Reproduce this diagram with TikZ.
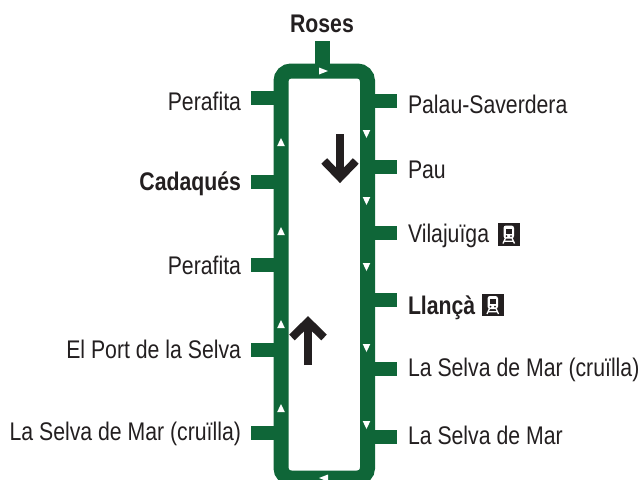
\documentclass[tikz,border=0pt]{standalone}
\usepackage{fontspec}
\setmainfont[FakeStretch=0.833]{Liberation Sans}
\definecolor{linegreen}{HTML}{0F6638}
\definecolor{inkblack}{HTML}{231F20}
\newcommand{\lblsize}{\fontsize{25.5pt}{27pt}\selectfont}
\tikzset{
  x=1pt,y=-1pt,
  every node/.style={inner sep=0pt,outer sep=0pt,text=inkblack,font=\lblsize},
  loopline/.style={draw=linegreen,line width=15pt,rounded corners=10pt},
  stub/.style={draw=linegreen,line width=14.5pt},
  llabel/.style={anchor=base east},
  rlabel/.style={anchor=base west},
  dirtri/.style={fill=white,draw=none},
  bigarrow/.style={draw=inkblack,line width=8pt,miter limit=10},
  pics/trainicon/.style={code={
    \fill[inkblack] (0,0) rectangle (22.5,22.5);
    \fill[white,rounded corners=2.5pt] (6,2.5) rectangle (16.5,15.5);
    \fill[inkblack] (8,5.5) rectangle (14.5,10.5);
    \fill[inkblack] (9,13) circle (1);
    \fill[inkblack] (13.5,13) circle (1);
    \draw[white,line width=1.3pt] (8,15) -- (5.5,20.5) (14.5,15) -- (17,20.5) (6.5,18.2) -- (16,18.2);
  }}
}
\newcommand{\dirup}[2]{\fill[dirtri] (#1,#2-5) -- (#1+3.8,#2+3) -- (#1-3.8,#2+3) -- cycle;}
\newcommand{\dirdown}[2]{\fill[dirtri] (#1,#2+5) -- (#1+3.8,#2-3) -- (#1-3.8,#2-3) -- cycle;}
\begin{document}
\begin{tikzpicture}
\useasboundingbox (0,0) rectangle (641,480);
% corners of the loop
\coordinate (tl) at (281,71); \coordinate (tr) at (367.5,71);
\coordinate (bl) at (281,478); \coordinate (br) at (367.5,478);
\draw[loopline] (tl) -- (tr) -- (br) -- (bl) -- cycle;
% stop anchors on the loop
\coordinate (sRoses) at (322.5,66);
\coordinate (sL1) at (275,98); \coordinate (sL2) at (275,182); \coordinate (sL3) at (275,265);
\coordinate (sL4) at (275,350); \coordinate (sL5) at (275,433);
\coordinate (sR1) at (373,101); \coordinate (sR2) at (373,167); \coordinate (sR3) at (373,233);
\coordinate (sR4) at (373,300); \coordinate (sR5) at (373,369); \coordinate (sR6) at (373,437);
% labels
\node[anchor=base,font=\lblsize\bfseries] (roses) at (322,32) {Roses};
\node[llabel] (l1) at (241,110.5) {Perafita};
\node[llabel,font=\lblsize\bfseries] (l2) at (241,190) {Cadaqués};
\node[llabel] (l3) at (241,274) {Perafita};
\node[llabel] (l4) at (241,358.5) {El Port de la Selva};
\node[llabel] (l5) at (241,440) {La Selva de Mar (cruïlla)};
\node[rlabel] (r1) at (408,113) {Palau-Saverdera};
\node[rlabel] (r2) at (408,178) {Pau};
\node[rlabel] (r3) at (408,242) {Vilajuïga};
\node[rlabel,font=\lblsize\bfseries] (r4) at (408,314) {Llançà};
\node[rlabel] (r5) at (408,376.5) {La Selva de Mar (cruïlla)};
\node[rlabel] (r6) at (408,444) {La Selva de Mar};
% stubs
\coordinate (eRoses) at (322.5,41);
\coordinate (eL1) at (251,98); \coordinate (eL2) at (251,182); \coordinate (eL3) at (251,265);
\coordinate (eL4) at (251,350); \coordinate (eL5) at (251,433);
\coordinate (eR1) at (397,101); \coordinate (eR2) at (397,167); \coordinate (eR3) at (397,233);
\coordinate (eR4) at (397,300); \coordinate (eR5) at (397,369); \coordinate (eR6) at (397,437);
\draw[stub] (sRoses) -- (eRoses);
\foreach \n in {L1,L2,L3,L4,L5,R1,R2,R3,R4,R5,R6} \draw[stub] (s\n) -- (e\n);
% direction triangles
\fill[dirtri] (328,71) -- (319,67.5) -- (319,74.5) -- cycle;
\fill[dirtri] (319,478) -- (328,474.5) -- (328,481.5) -- cycle;
\dirup{281}{143}\dirup{281}{232}\dirup{281}{325}\dirup{281}{409}
\dirdown{366.5}{133}\dirdown{366.5}{200}\dirdown{366.5}{266}\dirdown{366.5}{347}\dirdown{366.5}{424}
% big arrows
\draw[bigarrow] (340,134) -- (340,176);
\draw[bigarrow] (324.2,161) -- (340,177.3) -- (355.8,161);
\draw[bigarrow] (308,365) -- (308,323);
\draw[bigarrow] (292,337.5) -- (308,321.7) -- (324,337.5);
% train icons
\pic at (497.5,223) {trainicon};
\pic at (481.5,293.5) {trainicon};
\end{tikzpicture}
\end{document}
